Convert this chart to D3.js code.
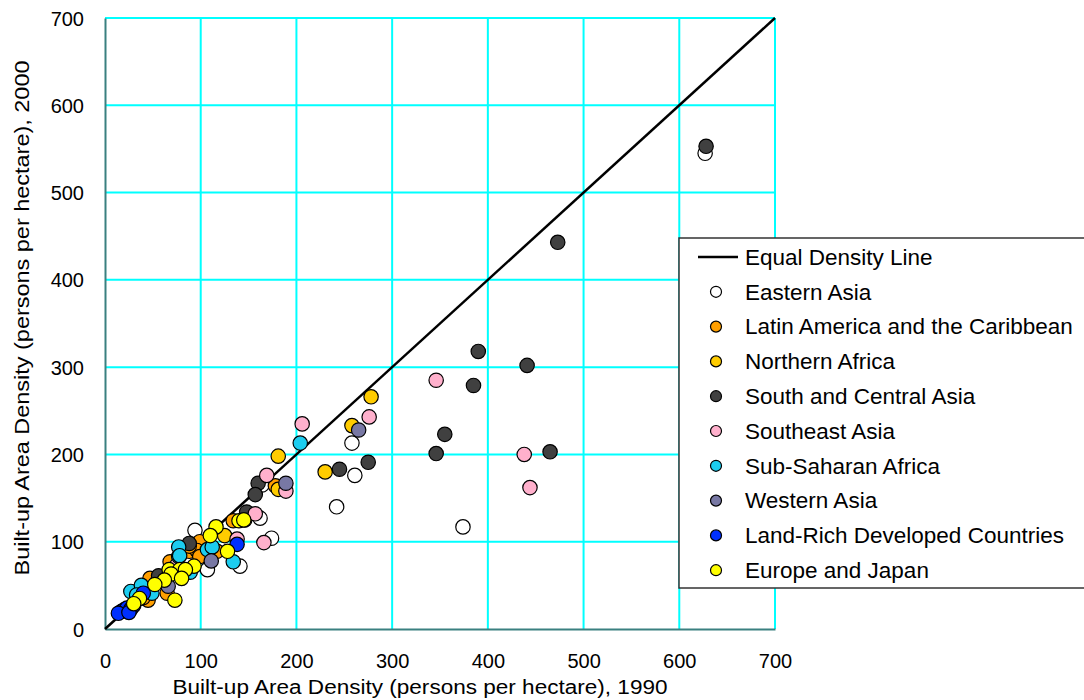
<!DOCTYPE html>
<html><head><meta charset="utf-8">
<script src="https://cdn.jsdelivr.net/npm/d3@7"></script>
<style>body{margin:0;background:#fff}svg{display:block}text{font-family:"Liberation Sans",Arial,sans-serif}</style>
</head><body>
<svg id="c" width="1084" height="700"></svg>
<script>
const xTicks = [0,100,200,300,400,500,600,700];
const yTicks = [0,100,200,300,400,500,600,700];
const legendLabels = ["Equal Density Line","Eastern Asia","Latin America and the Caribbean","Northern Africa","South and Central Asia","Southeast Asia","Sub-Saharan Africa","Western Asia","Land-Rich Developed Countries","Europe and Japan"];
const regionColors = ["#ffffff","#ff9f00","#ffcc00","#404040","#ffb0cc","#1ccdf0","#7878a4","#0030ff","#ffff00"];
const equalLine = [[0,0],[700,700]];
const easternAsia = [[627,545],[374,117],[242,140],[261,176],[258,213],[162,127],[164,165],[174,104],[94,113],[107,68],[141,72]];
const latinAmerica = [[134,124],[99,100],[88,89],[96,90],[99,83],[117,89],[68,77],[47,58],[65,41],[45,33],[178,164],[55,55],[40,36],[88,95]];
const northernAfrica = [[278,266],[258,233],[230,180],[181,198],[181,160],[125,107],[146,125]];
const southCentralAsia = [[628,553],[473,443],[390,318],[441,302],[385,279],[355,223],[346,201],[465,203],[275,191],[245,183],[160,167],[157,154],[148,134],[88,98],[56,61]];
const southeastAsia = [[346,285],[276,243],[206,235],[438,200],[444,162],[169,176],[189,158],[157,132],[166,99],[138,103],[75,73]];
const subSaharanAfrica = [[204,213],[77,94],[77,83],[107,91],[112,94],[134,77],[27,43],[38,50],[33,39],[49,41],[89,65],[78,84]];
const westernAsia = [[265,228],[189,167],[111,78],[66,49]];
const landRich = [[138,97],[40,41],[17,20],[20,22],[23,24],[27,23],[14,18],[30,27],[25,19]];
const europeJapan = [[116,117],[110,107],[128,89],[140,124],[145,125],[93,72],[67,68],[78,68],[84,68],[69,63],[80,58],[62,56],[52,51],[73,33],[36,35],[30,29]];
const seriesData = [easternAsia,latinAmerica,northernAfrica,southCentralAsia,southeastAsia,subSaharanAfrica,westernAsia,landRich,europeJapan];

const svg = d3.select("#c");
const x = d3.scaleLinear().domain([0,700]).range([105,775]);
const y = d3.scaleLinear().domain([0,700]).range([629,18]);

// grid
const grid = svg.append("g");
grid.selectAll(".vg").data(xTicks.slice(1)).join("line")
  .attr("x1",d=>x(d)).attr("x2",d=>x(d)).attr("y1",y(0)).attr("y2",y(700))
  .attr("stroke","#00ffff").attr("stroke-width",2);
grid.selectAll(".hg").data(yTicks.slice(1)).join("line")
  .attr("y1",d=>y(d)).attr("y2",d=>y(d)).attr("x1",x(0)).attr("x2",x(700))
  .attr("stroke","#00ffff").attr("stroke-width",2);

// axes
const xa = svg.append("g").attr("transform",`translate(0,${y(0)})`)
  .call(d3.axisBottom(x).tickValues(xTicks).tickSize(0).tickPadding(0).tickFormat(d3.format("d")));
xa.select(".domain").attr("stroke","#3a8080").attr("stroke-width",2);
xa.selectAll("text").attr("y",39).attr("dy",0).attr("font-size",20).attr("fill","#000").style("font-family","Liberation Sans, Arial");
const ya = svg.append("g").attr("transform",`translate(${x(0)},0)`)
  .call(d3.axisLeft(y).tickValues(yTicks).tickSize(0).tickPadding(21).tickFormat(d3.format("d")));
ya.select(".domain").attr("stroke","#3a8080").attr("stroke-width",2);
ya.selectAll("text").attr("dy","0.35em").attr("font-size",20).attr("fill","#000").style("font-family","Liberation Sans, Arial");

// titles
svg.append("text").attr("x",420).attr("y",694).attr("text-anchor","middle").attr("font-size",20)
  .attr("textLength",495).attr("lengthAdjust","spacingAndGlyphs")
  .text("Built-up Area Density (persons per hectare), 1990");
svg.append("text").attr("transform","translate(29,318) rotate(-90)").attr("text-anchor","middle").attr("font-size",20)
  .attr("textLength",515).attr("lengthAdjust","spacingAndGlyphs")
  .text("Built-up Area Density (persons per hectare), 2000");

// equal line
svg.append("path").datum(equalLine)
  .attr("d",d3.line().x(d=>x(d[0])).y(d=>y(d[1])))
  .attr("stroke","#000").attr("stroke-width",2.5).attr("fill","none");

// points
seriesData.forEach((s,i)=>{
  svg.append("g").selectAll("circle").data(s).join("circle")
    .attr("cx",d=>x(d[0])).attr("cy",d=>y(d[1])).attr("r",7.2)
    .attr("fill",regionColors[i]).attr("stroke","#000").attr("stroke-width",1.2);
});

// legend
const lg = svg.append("g");
lg.append("rect").attr("x",679).attr("y",238).attr("width",420).attr("height",350)
  .attr("fill","#fff").attr("stroke","#333").attr("stroke-width",1.5);
legendLabels.forEach((lab,i)=>{
  const cy = 257 + i*34.8;
  if(i===0){
    lg.append("line").attr("x1",698).attr("x2",738).attr("y1",cy).attr("y2",cy).attr("stroke","#000").attr("stroke-width",2.5);
  } else {
    lg.append("circle").attr("cx",716).attr("cy",cy).attr("r",5.5)
      .attr("fill",regionColors[i-1]).attr("stroke","#000").attr("stroke-width",1.2);
  }
  lg.append("text").attr("x",745).attr("y",cy).attr("dy","0.35em").attr("font-size",22.5).text(lab);
});
</script>
</body></html>
